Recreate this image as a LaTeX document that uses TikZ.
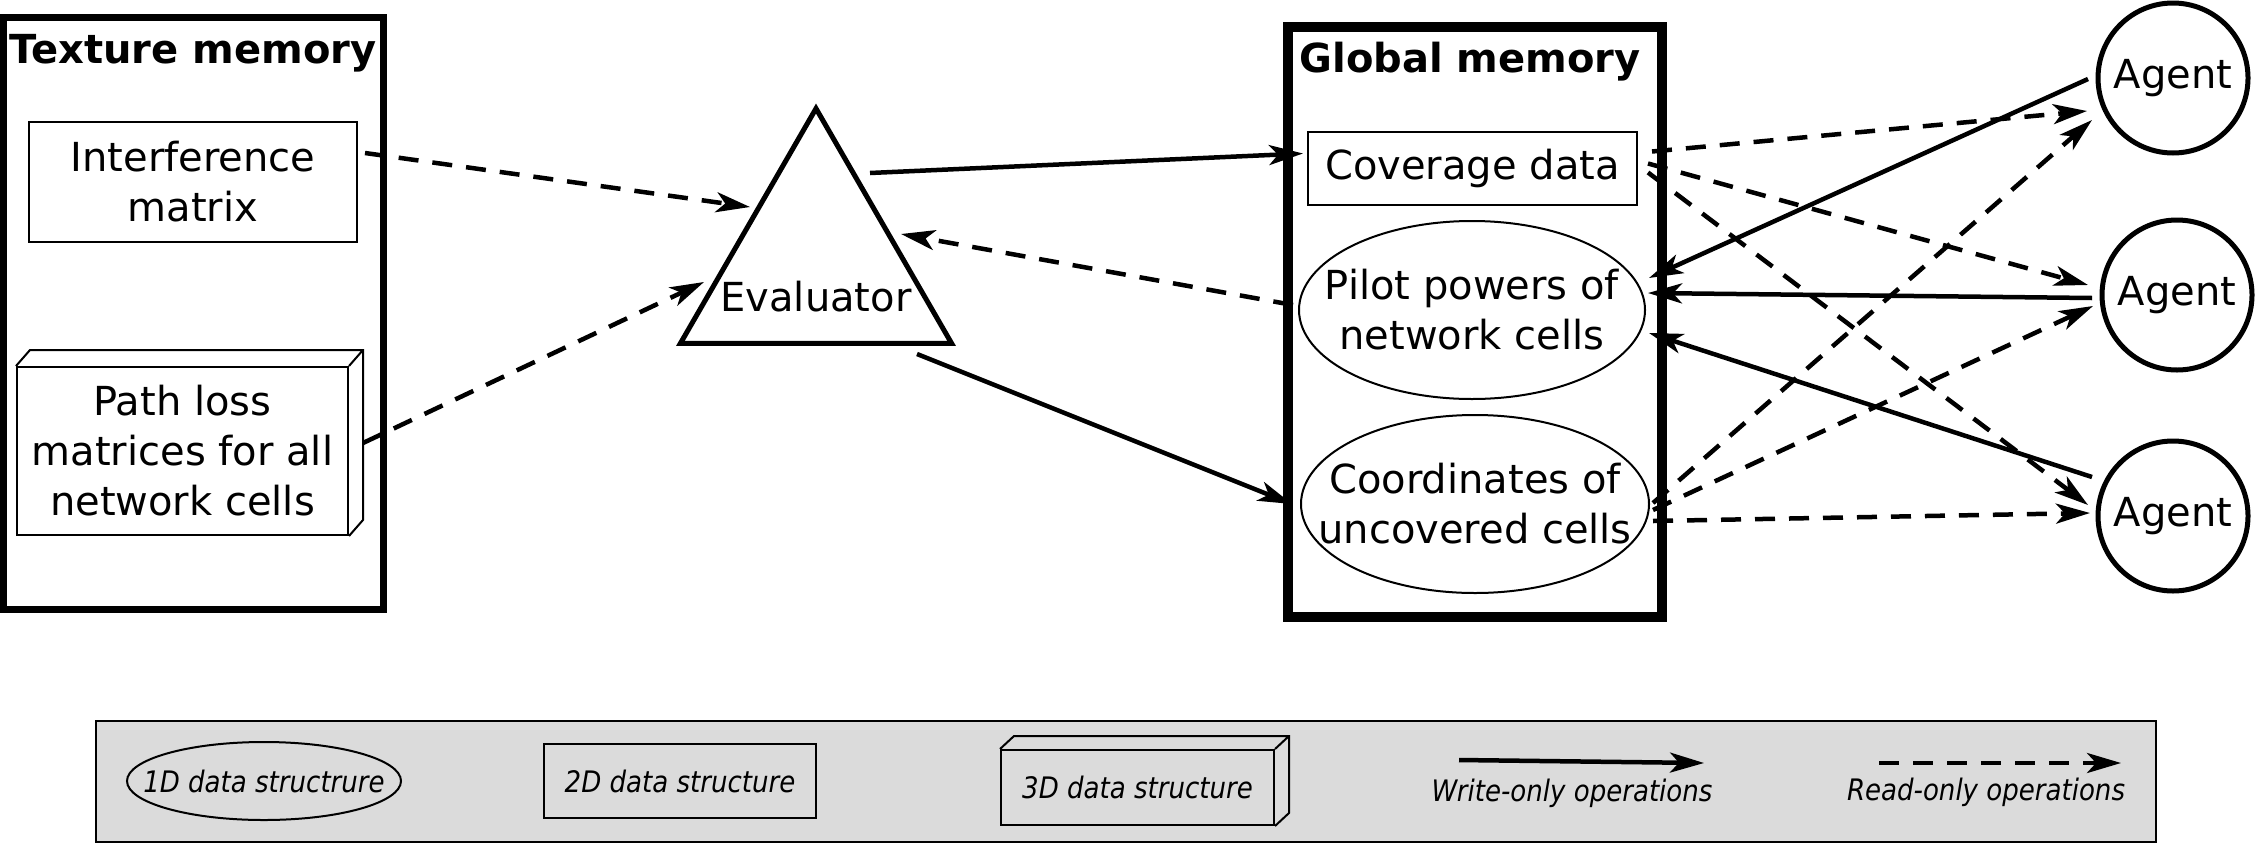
\documentclass[tikz,border=0pt]{standalone}
\usepackage{fontspec}
\setmainfont{DejaVu Sans}
\newfontfamily\legendfont[FakeStretch=0.88]{DejaVu Sans}
\usepackage{tikz}
\usetikzlibrary{arrows.meta,shapes.geometric,positioning}

\tikzset{
  wr/.style={line width=4.5pt,-{Stealth[length=34pt,width=20pt,inset=9pt]}},
  rd/.style={wr,dash pattern=on 20pt off 14pt},
  memory/.style={draw=black,line width=8pt,inner sep=0pt},
  flat/.style={draw=black,line width=2pt,inner sep=0pt,align=center},
  oval/.style={ellipse,draw=black,line width=2pt,inner xsep=-40pt,inner ysep=0pt,align=center},
  agent/.style={circle,draw=black,line width=5pt,minimum size=150pt,inner sep=0pt},
  legend/.style={font=\legendfont\itshape\fontsize{29.6pt}{36pt}\selectfont},
}

\begin{document}
\begin{tikzpicture}[x=1pt,y=-1pt,font=\fontsize{40pt}{50pt}\selectfont]
    \useasboundingbox (0,0) rectangle (2258,846);

    % texture memory
    \node[memory,line width=7pt,minimum width=380pt,minimum height=592pt,name=tex] at (193.5,313) {};
    \node[font=\fontsize{40pt}{50pt}\selectfont\bfseries,name=textitle] at (193,53) {Texture memory};
    \node[flat,minimum width=328pt,minimum height=120pt,name=inter] at (193,182) {Interference\\matrix};
    \node[flat,minimum width=331pt,minimum height=168pt,name=ploss] at (182.5,451) {Path loss\\matrices for all\\network cells};
    \draw[line width=2pt] (ploss.north west) -- ++(14,-16) -- ([shift={(14,-16)}]ploss.north east)
        -- ([shift={(14,-16)}]ploss.south east) -- (ploss.south east)
        (ploss.north east) -- ++(14,-16);

    % evaluator
    \node[regular polygon,regular polygon sides=3,draw=black,line width=5pt,minimum size=313pt,inner sep=0pt,
          label={[yshift=-32pt]center:Evaluator},name=eval] at (816,265) {};

    % global memory
    \node[memory,line width=10pt,minimum width=374pt,minimum height=590pt,name=glob] at (1475,322) {};
    \node[font=\fontsize{40pt}{50pt}\selectfont\bfseries,name=globtitle] at (1470,62) {Global memory};
    \node[flat,minimum width=329pt,minimum height=73pt,name=cov] at (1472.5,168) {Coverage data};
    \node[oval,minimum width=346pt,minimum height=178pt,name=pilot] at (1472,310) {Pilot powers of\\network cells};
    \node[oval,minimum width=348pt,minimum height=178pt,name=coord] at (1475,504) {Coordinates of\\uncovered cells};

    % agents
    \node[agent,name=a1] at (2173,78) {Agent};
    \node[agent,name=a2] at (2177,295) {Agent};
    \node[agent,name=a3] at (2173,516) {Agent};

    \path[rd] ([shift={(7,-29)}]inter.east) edge ([shift={(-66,-58)}]eval.center)
              ([shift={(14,-8)}]ploss.east) edge ([shift={(-112,17)}]eval.center)
              ([shift={(-5,-5)}]pilot.west) edge ([shift={(85,-31)}]eval.center);

    \path[wr] ([shift={(54,-92)}]eval.center) edge ([shift={(-4,-14.5)}]cov.west)
              ([shift={(101,89)}]eval.center) edge ([shift={(-8,0)}]coord.west)
              ([shift={(-7.5,1)}]a1.west) edge ([shift={(3,-32)}]pilot.east)
              ([shift={(-7.5,3)}]a2.west) edge ([shift={(2,-17)}]pilot.east)
              ([shift={(-3.5,-39)}]a3.west) edge ([shift={(3,23)}]pilot.east);

    \path[rd] ([shift={(14,-16.5)}]cov.east) edge ([shift={(-8.5,33)}]a1.west)
              ([shift={(10,-4.5)}]cov.east) edge ([shift={(-11.5,-10)}]a2.west)
              ([shift={(10,4.5)}]cov.east) edge ([shift={(-7.5,-11)}]a3.west)
              ([shift={(3,-1)}]coord.east) edge ([shift={(-3.5,42)}]a1.west)
              ([shift={(3,6)}]coord.east) edge ([shift={(-6.5,11)}]a2.west)
              ([shift={(3,17)}]coord.east) edge ([shift={(-5.5,-3)}]a3.west);

    % legend
    \node[draw=black,fill=black!14,line width=2pt,minimum width=2060pt,minimum height=121pt,name=leg] at (1126,781.5) {};
    \node[oval,legend,minimum width=274pt,minimum height=78pt,name=l1] at (264,781) {1D data structrure};
    \node[flat,legend,minimum width=272pt,minimum height=74pt,name=l2] at (680,781) {2D data structure};
    \node[flat,legend,minimum width=273pt,minimum height=75pt,name=l3] at (1137.5,787.5) {3D data structure};
    \draw[line width=2pt] (l3.north west) -- ++(14,-13) -- ([shift={(14,-13)}]l3.north east)
        -- ([shift={(14,-13)}]l3.south east) -- (l3.south east)
        (l3.north east) -- ++(14,-13);

    \coordinate (w1) at (1459,760);
    \coordinate (w2) at (1704,763);
    \path[wr] (w1) edge (w2);
    \node[legend,name=wtext] at (1572,793) {Write-only operations};
    \coordinate (r1) at (1879,763);
    \coordinate (r2) at (2121,763);
    \path[rd] (r1) edge (r2);
    \node[legend,name=rtext] at (1986,792) {Read-only operations};
\end{tikzpicture}
\end{document}
